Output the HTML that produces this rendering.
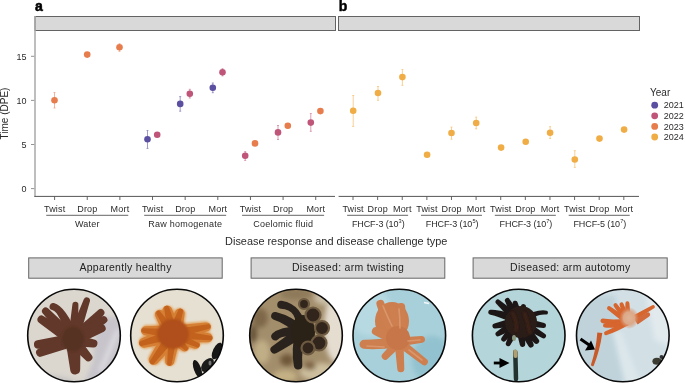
<!DOCTYPE html>
<html><head><meta charset="utf-8"><style>
html,body{margin:0;padding:0;background:#fff;width:685px;height:383px;overflow:hidden;}
svg{display:block;will-change:transform;}
text{font-family:"Liberation Sans",sans-serif;}
</style></head><body>
<svg width="685" height="383" viewBox="0 0 685 383">
<rect x="35" y="16.5" width="300.5" height="14" fill="#d9d9d9" stroke="#636363" stroke-width="1"/>
<rect x="338.5" y="16.5" width="301" height="14" fill="#d9d9d9" stroke="#636363" stroke-width="1"/>
<text x="34.9" y="11" font-family="Liberation Sans, sans-serif" font-weight="bold" font-size="14" fill="#000" stroke="#000" stroke-width="0.55">a</text>
<text x="338.8" y="11" font-family="Liberation Sans, sans-serif" font-weight="bold" font-size="14" fill="#000" stroke="#000" stroke-width="0.45">b</text>
<line x1="35" y1="16" x2="35" y2="196.5" stroke="#a8a8a8" stroke-width="1.5"/>
<line x1="31" y1="188.60" x2="34.3" y2="188.60" stroke="#888" stroke-width="0.9"/>
<text x="26.5" y="191.80" font-family="Liberation Sans, sans-serif" font-size="9" fill="#2b2b2b" text-anchor="end">0</text>
<line x1="31" y1="144.50" x2="34.3" y2="144.50" stroke="#888" stroke-width="0.9"/>
<text x="26.5" y="147.70" font-family="Liberation Sans, sans-serif" font-size="9" fill="#2b2b2b" text-anchor="end">5</text>
<line x1="31" y1="100.40" x2="34.3" y2="100.40" stroke="#888" stroke-width="0.9"/>
<text x="26.5" y="103.60" font-family="Liberation Sans, sans-serif" font-size="9" fill="#2b2b2b" text-anchor="end">10</text>
<line x1="31" y1="56.30" x2="34.3" y2="56.30" stroke="#888" stroke-width="0.9"/>
<text x="26.5" y="59.50" font-family="Liberation Sans, sans-serif" font-size="9" fill="#2b2b2b" text-anchor="end">15</text>
<text transform="translate(7.6,113.5) rotate(-90)" font-family="Liberation Sans, sans-serif" font-size="10" fill="#2b2b2b" text-anchor="middle">Time (DPE)</text>
<line x1="34.3" y1="196.4" x2="335" y2="196.4" stroke="#555" stroke-width="1"/>
<line x1="338.6" y1="196.4" x2="639" y2="196.4" stroke="#555" stroke-width="1"/>
<line x1="54.60" y1="196.4" x2="54.60" y2="200" stroke="#555" stroke-width="0.9"/>
<text x="54.70" y="211.8" font-family="Liberation Sans, sans-serif" font-size="9" letter-spacing="0.18" fill="#2b2b2b" text-anchor="middle">Twist</text>
<line x1="87.24" y1="196.4" x2="87.24" y2="200" stroke="#555" stroke-width="0.9"/>
<text x="87.34" y="211.8" font-family="Liberation Sans, sans-serif" font-size="9" letter-spacing="0.18" fill="#2b2b2b" text-anchor="middle">Drop</text>
<line x1="119.88" y1="196.4" x2="119.88" y2="200" stroke="#555" stroke-width="0.9"/>
<text x="119.98" y="211.8" font-family="Liberation Sans, sans-serif" font-size="9" letter-spacing="0.18" fill="#2b2b2b" text-anchor="middle">Mort</text>
<line x1="152.52" y1="196.4" x2="152.52" y2="200" stroke="#555" stroke-width="0.9"/>
<text x="152.62" y="211.8" font-family="Liberation Sans, sans-serif" font-size="9" letter-spacing="0.18" fill="#2b2b2b" text-anchor="middle">Twist</text>
<line x1="185.16" y1="196.4" x2="185.16" y2="200" stroke="#555" stroke-width="0.9"/>
<text x="185.26" y="211.8" font-family="Liberation Sans, sans-serif" font-size="9" letter-spacing="0.18" fill="#2b2b2b" text-anchor="middle">Drop</text>
<line x1="217.80" y1="196.4" x2="217.80" y2="200" stroke="#555" stroke-width="0.9"/>
<text x="217.90" y="211.8" font-family="Liberation Sans, sans-serif" font-size="9" letter-spacing="0.18" fill="#2b2b2b" text-anchor="middle">Mort</text>
<line x1="250.44" y1="196.4" x2="250.44" y2="200" stroke="#555" stroke-width="0.9"/>
<text x="250.54" y="211.8" font-family="Liberation Sans, sans-serif" font-size="9" letter-spacing="0.18" fill="#2b2b2b" text-anchor="middle">Twist</text>
<line x1="283.08" y1="196.4" x2="283.08" y2="200" stroke="#555" stroke-width="0.9"/>
<text x="283.18" y="211.8" font-family="Liberation Sans, sans-serif" font-size="9" letter-spacing="0.18" fill="#2b2b2b" text-anchor="middle">Drop</text>
<line x1="315.72" y1="196.4" x2="315.72" y2="200" stroke="#555" stroke-width="0.9"/>
<text x="315.82" y="211.8" font-family="Liberation Sans, sans-serif" font-size="9" letter-spacing="0.18" fill="#2b2b2b" text-anchor="middle">Mort</text>
<line x1="353.00" y1="196.4" x2="353.00" y2="200" stroke="#555" stroke-width="0.9"/>
<text x="353.10" y="211.8" font-family="Liberation Sans, sans-serif" font-size="9" letter-spacing="0.18" fill="#2b2b2b" text-anchor="middle">Twist</text>
<line x1="377.62" y1="196.4" x2="377.62" y2="200" stroke="#555" stroke-width="0.9"/>
<text x="377.72" y="211.8" font-family="Liberation Sans, sans-serif" font-size="9" letter-spacing="0.18" fill="#2b2b2b" text-anchor="middle">Drop</text>
<line x1="402.24" y1="196.4" x2="402.24" y2="200" stroke="#555" stroke-width="0.9"/>
<text x="402.34" y="211.8" font-family="Liberation Sans, sans-serif" font-size="9" letter-spacing="0.18" fill="#2b2b2b" text-anchor="middle">Mort</text>
<line x1="426.86" y1="196.4" x2="426.86" y2="200" stroke="#555" stroke-width="0.9"/>
<text x="426.96" y="211.8" font-family="Liberation Sans, sans-serif" font-size="9" letter-spacing="0.18" fill="#2b2b2b" text-anchor="middle">Twist</text>
<line x1="451.48" y1="196.4" x2="451.48" y2="200" stroke="#555" stroke-width="0.9"/>
<text x="451.58" y="211.8" font-family="Liberation Sans, sans-serif" font-size="9" letter-spacing="0.18" fill="#2b2b2b" text-anchor="middle">Drop</text>
<line x1="476.10" y1="196.4" x2="476.10" y2="200" stroke="#555" stroke-width="0.9"/>
<text x="476.20" y="211.8" font-family="Liberation Sans, sans-serif" font-size="9" letter-spacing="0.18" fill="#2b2b2b" text-anchor="middle">Mort</text>
<line x1="500.72" y1="196.4" x2="500.72" y2="200" stroke="#555" stroke-width="0.9"/>
<text x="500.82" y="211.8" font-family="Liberation Sans, sans-serif" font-size="9" letter-spacing="0.18" fill="#2b2b2b" text-anchor="middle">Twist</text>
<line x1="525.34" y1="196.4" x2="525.34" y2="200" stroke="#555" stroke-width="0.9"/>
<text x="525.44" y="211.8" font-family="Liberation Sans, sans-serif" font-size="9" letter-spacing="0.18" fill="#2b2b2b" text-anchor="middle">Drop</text>
<line x1="549.96" y1="196.4" x2="549.96" y2="200" stroke="#555" stroke-width="0.9"/>
<text x="550.06" y="211.8" font-family="Liberation Sans, sans-serif" font-size="9" letter-spacing="0.18" fill="#2b2b2b" text-anchor="middle">Mort</text>
<line x1="574.58" y1="196.4" x2="574.58" y2="200" stroke="#555" stroke-width="0.9"/>
<text x="574.68" y="211.8" font-family="Liberation Sans, sans-serif" font-size="9" letter-spacing="0.18" fill="#2b2b2b" text-anchor="middle">Twist</text>
<line x1="599.20" y1="196.4" x2="599.20" y2="200" stroke="#555" stroke-width="0.9"/>
<text x="599.30" y="211.8" font-family="Liberation Sans, sans-serif" font-size="9" letter-spacing="0.18" fill="#2b2b2b" text-anchor="middle">Drop</text>
<line x1="623.82" y1="196.4" x2="623.82" y2="200" stroke="#555" stroke-width="0.9"/>
<text x="623.92" y="211.8" font-family="Liberation Sans, sans-serif" font-size="9" letter-spacing="0.18" fill="#2b2b2b" text-anchor="middle">Mort</text>
<line x1="46.24" y1="215.3" x2="128.24" y2="215.3" stroke="#555" stroke-width="0.9"/>
<text x="87.34" y="227.2" font-family="Liberation Sans, sans-serif" font-size="9" letter-spacing="0.25" fill="#2b2b2b" text-anchor="middle">Water</text>
<line x1="144.16" y1="215.3" x2="226.16" y2="215.3" stroke="#555" stroke-width="0.9"/>
<text x="185.26" y="227.2" font-family="Liberation Sans, sans-serif" font-size="9" letter-spacing="0.25" fill="#2b2b2b" text-anchor="middle">Raw homogenate</text>
<line x1="242.08" y1="215.3" x2="324.08" y2="215.3" stroke="#555" stroke-width="0.9"/>
<text x="283.18" y="227.2" font-family="Liberation Sans, sans-serif" font-size="9" letter-spacing="0.25" fill="#2b2b2b" text-anchor="middle">Coelomic fluid</text>
<line x1="347.12" y1="215.3" x2="408.12" y2="215.3" stroke="#555" stroke-width="0.9"/>
<text x="378.22" y="227.2" font-family="Liberation Sans, sans-serif" font-size="9" letter-spacing="-0.1" fill="#2b2b2b" text-anchor="middle">FHCF-3 (10<tspan font-size="5.6" dy="-4.3" dx="0.2">3</tspan><tspan dy="4.3">)</tspan></text>
<line x1="420.98" y1="215.3" x2="481.98" y2="215.3" stroke="#555" stroke-width="0.9"/>
<text x="452.08" y="227.2" font-family="Liberation Sans, sans-serif" font-size="9" letter-spacing="-0.1" fill="#2b2b2b" text-anchor="middle">FHCF-3 (10<tspan font-size="5.6" dy="-4.3" dx="0.2">5</tspan><tspan dy="4.3">)</tspan></text>
<line x1="494.84" y1="215.3" x2="555.84" y2="215.3" stroke="#555" stroke-width="0.9"/>
<text x="525.94" y="227.2" font-family="Liberation Sans, sans-serif" font-size="9" letter-spacing="-0.1" fill="#2b2b2b" text-anchor="middle">FHCF-3 (10<tspan font-size="5.6" dy="-4.3" dx="0.2">7</tspan><tspan dy="4.3">)</tspan></text>
<line x1="568.70" y1="215.3" x2="629.70" y2="215.3" stroke="#555" stroke-width="0.9"/>
<text x="599.80" y="227.2" font-family="Liberation Sans, sans-serif" font-size="9" letter-spacing="-0.1" fill="#2b2b2b" text-anchor="middle">FHCF-5 (10<tspan font-size="5.6" dy="-4.3" dx="0.2">7</tspan><tspan dy="4.3">)</tspan></text>
<text x="336.2" y="244.7" font-family="Liberation Sans, sans-serif" font-size="10.9" fill="#2b2b2b" text-anchor="middle">Disease response and disease challenge type</text>
<text x="650" y="96" font-family="Liberation Sans, sans-serif" font-size="10" fill="#2b2b2b">Year</text>
<circle cx="654.7" cy="105.20" r="3.4" fill="#5a4fa0"/>
<text x="663.8" y="108.40" font-family="Liberation Sans, sans-serif" font-size="9" fill="#2b2b2b">2021</text>
<circle cx="654.7" cy="115.80" r="3.4" fill="#bf5679"/>
<text x="663.8" y="119.00" font-family="Liberation Sans, sans-serif" font-size="9" fill="#2b2b2b">2022</text>
<circle cx="654.7" cy="126.40" r="3.4" fill="#e77c4d"/>
<text x="663.8" y="129.60" font-family="Liberation Sans, sans-serif" font-size="9" fill="#2b2b2b">2023</text>
<circle cx="654.7" cy="137.00" r="3.4" fill="#f0ad45"/>
<text x="663.8" y="140.20" font-family="Liberation Sans, sans-serif" font-size="9" fill="#2b2b2b">2024</text>
<g stroke="#e77c4d" stroke-width="0.75" opacity="0.75"><line x1="54.5" y1="92.4" x2="54.5" y2="108.0"/><line x1="53.5" y1="92.4" x2="55.5" y2="92.4"/><line x1="53.5" y1="108.0" x2="55.5" y2="108.0"/></g>
<circle cx="54.5" cy="100.3" r="3.3" fill="#e77c4d"/>
<circle cx="87.2" cy="54.6" r="3.3" fill="#e77c4d"/>
<g stroke="#e77c4d" stroke-width="0.75" opacity="0.75"><line x1="119.5" y1="43.8" x2="119.5" y2="51.3"/><line x1="118.5" y1="43.8" x2="120.5" y2="43.8"/><line x1="118.5" y1="51.3" x2="120.5" y2="51.3"/></g>
<circle cx="119.5" cy="47.3" r="3.3" fill="#e77c4d"/>
<g stroke="#5a4fa0" stroke-width="0.75" opacity="0.75"><line x1="147.5" y1="130.4" x2="147.5" y2="148.4"/><line x1="146.5" y1="130.4" x2="148.5" y2="130.4"/><line x1="146.5" y1="148.4" x2="148.5" y2="148.4"/></g>
<circle cx="147.5" cy="139.3" r="3.3" fill="#5a4fa0"/>
<circle cx="157.2" cy="134.8" r="3.3" fill="#bf5679"/>
<g stroke="#5a4fa0" stroke-width="0.75" opacity="0.75"><line x1="180.2" y1="96.6" x2="180.2" y2="111.2"/><line x1="179.2" y1="96.6" x2="181.2" y2="96.6"/><line x1="179.2" y1="111.2" x2="181.2" y2="111.2"/></g>
<circle cx="180.2" cy="103.9" r="3.3" fill="#5a4fa0"/>
<g stroke="#bf5679" stroke-width="0.75" opacity="0.75"><line x1="189.8" y1="89.3" x2="189.8" y2="98.0"/><line x1="188.8" y1="89.3" x2="190.8" y2="89.3"/><line x1="188.8" y1="98.0" x2="190.8" y2="98.0"/></g>
<circle cx="189.8" cy="93.7" r="3.3" fill="#bf5679"/>
<g stroke="#5a4fa0" stroke-width="0.75" opacity="0.75"><line x1="212.8" y1="83.0" x2="212.8" y2="92.7"/><line x1="211.8" y1="83.0" x2="213.8" y2="83.0"/><line x1="211.8" y1="92.7" x2="213.8" y2="92.7"/></g>
<circle cx="212.8" cy="87.7" r="3.3" fill="#5a4fa0"/>
<g stroke="#bf5679" stroke-width="0.75" opacity="0.75"><line x1="222.5" y1="68.7" x2="222.5" y2="75.9"/><line x1="221.5" y1="68.7" x2="223.5" y2="68.7"/><line x1="221.5" y1="75.9" x2="223.5" y2="75.9"/></g>
<circle cx="222.5" cy="72.3" r="3.3" fill="#bf5679"/>
<g stroke="#bf5679" stroke-width="0.75" opacity="0.75"><line x1="245.2" y1="151.6" x2="245.2" y2="160.4"/><line x1="244.2" y1="151.6" x2="246.2" y2="151.6"/><line x1="244.2" y1="160.4" x2="246.2" y2="160.4"/></g>
<circle cx="245.2" cy="155.8" r="3.3" fill="#bf5679"/>
<circle cx="255.0" cy="143.4" r="3.3" fill="#e77c4d"/>
<g stroke="#bf5679" stroke-width="0.75" opacity="0.75"><line x1="278.0" y1="125.5" x2="278.0" y2="139.5"/><line x1="277.0" y1="125.5" x2="279.0" y2="125.5"/><line x1="277.0" y1="139.5" x2="279.0" y2="139.5"/></g>
<circle cx="278.0" cy="132.4" r="3.3" fill="#bf5679"/>
<circle cx="287.8" cy="125.7" r="3.3" fill="#e77c4d"/>
<g stroke="#bf5679" stroke-width="0.75" opacity="0.75"><line x1="310.8" y1="113.4" x2="310.8" y2="131.3"/><line x1="309.8" y1="113.4" x2="311.8" y2="113.4"/><line x1="309.8" y1="131.3" x2="311.8" y2="131.3"/></g>
<circle cx="310.8" cy="122.6" r="3.3" fill="#bf5679"/>
<circle cx="320.4" cy="111.1" r="3.3" fill="#e77c4d"/>
<g stroke="#f0ad45" stroke-width="0.75" opacity="0.75"><line x1="353.2" y1="95.5" x2="353.2" y2="126.4"/><line x1="352.2" y1="95.5" x2="354.2" y2="95.5"/><line x1="352.2" y1="126.4" x2="354.2" y2="126.4"/></g>
<circle cx="353.2" cy="110.7" r="3.3" fill="#f0ad45"/>
<g stroke="#f0ad45" stroke-width="0.75" opacity="0.75"><line x1="378.0" y1="86.5" x2="378.0" y2="100.3"/><line x1="377.0" y1="86.5" x2="379.0" y2="86.5"/><line x1="377.0" y1="100.3" x2="379.0" y2="100.3"/></g>
<circle cx="378.0" cy="93.0" r="3.3" fill="#f0ad45"/>
<g stroke="#f0ad45" stroke-width="0.75" opacity="0.75"><line x1="402.4" y1="69.4" x2="402.4" y2="85.3"/><line x1="401.4" y1="69.4" x2="403.4" y2="69.4"/><line x1="401.4" y1="85.3" x2="403.4" y2="85.3"/></g>
<circle cx="402.4" cy="77.1" r="3.3" fill="#f0ad45"/>
<circle cx="427.1" cy="154.7" r="3.3" fill="#f0ad45"/>
<g stroke="#f0ad45" stroke-width="0.75" opacity="0.75"><line x1="451.5" y1="127.1" x2="451.5" y2="139.2"/><line x1="450.5" y1="127.1" x2="452.5" y2="127.1"/><line x1="450.5" y1="139.2" x2="452.5" y2="139.2"/></g>
<circle cx="451.5" cy="133.0" r="3.3" fill="#f0ad45"/>
<g stroke="#f0ad45" stroke-width="0.75" opacity="0.75"><line x1="476.2" y1="117.1" x2="476.2" y2="128.8"/><line x1="475.2" y1="117.1" x2="477.2" y2="117.1"/><line x1="475.2" y1="128.8" x2="477.2" y2="128.8"/></g>
<circle cx="476.2" cy="123.0" r="3.3" fill="#f0ad45"/>
<circle cx="501.1" cy="147.6" r="3.3" fill="#f0ad45"/>
<circle cx="525.7" cy="141.8" r="3.3" fill="#f0ad45"/>
<g stroke="#f0ad45" stroke-width="0.75" opacity="0.75"><line x1="550.1" y1="126.7" x2="550.1" y2="138.6"/><line x1="549.1" y1="126.7" x2="551.1" y2="126.7"/><line x1="549.1" y1="138.6" x2="551.1" y2="138.6"/></g>
<circle cx="550.1" cy="132.8" r="3.3" fill="#f0ad45"/>
<g stroke="#f0ad45" stroke-width="0.75" opacity="0.75"><line x1="574.8" y1="150.7" x2="574.8" y2="167.4"/><line x1="573.8" y1="150.7" x2="575.8" y2="150.7"/><line x1="573.8" y1="167.4" x2="575.8" y2="167.4"/></g>
<circle cx="574.8" cy="159.5" r="3.3" fill="#f0ad45"/>
<circle cx="599.5" cy="138.6" r="3.3" fill="#f0ad45"/>
<circle cx="624.1" cy="129.6" r="3.3" fill="#f0ad45"/>
<rect x="28.7" y="257.9" width="193.50" height="20.3" fill="#d9d9d9" stroke="#666" stroke-width="1"/>
<text x="125.60" y="271.1" font-family="Liberation Sans, sans-serif" font-size="10.5" letter-spacing="0.3" fill="#222" text-anchor="middle">Apparently healthy</text>
<rect x="251.1" y="257.9" width="193.70" height="20.3" fill="#d9d9d9" stroke="#666" stroke-width="1"/>
<text x="348.10" y="271.1" font-family="Liberation Sans, sans-serif" font-size="10.5" letter-spacing="0.3" fill="#222" text-anchor="middle">Diseased: arm twisting</text>
<rect x="473.1" y="257.9" width="194.10" height="20.3" fill="#d9d9d9" stroke="#666" stroke-width="1"/>
<text x="570.30" y="271.1" font-family="Liberation Sans, sans-serif" font-size="10.5" letter-spacing="0.3" fill="#222" text-anchor="middle">Diseased: arm autotomy</text>
<defs>
<clipPath id="cp0"><circle cx="74.0" cy="335.5" r="46.4"/></clipPath>
<clipPath id="cp1"><circle cx="177.0" cy="335.5" r="46.4"/></clipPath>
<clipPath id="cp2"><circle cx="296.0" cy="335.5" r="46.4"/></clipPath>
<clipPath id="cp3"><circle cx="399.3" cy="335.5" r="46.4"/></clipPath>
<clipPath id="cp4"><circle cx="518.7" cy="335.5" r="46.4"/></clipPath>
<clipPath id="cp5"><circle cx="622.8" cy="335.5" r="46.4"/></clipPath>
<filter id="bl" x="-10%" y="-10%" width="120%" height="120%"><feGaussianBlur stdDeviation="0.6"/></filter>
<filter id="bl2" x="-20%" y="-20%" width="140%" height="140%"><feGaussianBlur stdDeviation="2.5"/></filter>
<filter id="bl3" x="-20%" y="-20%" width="140%" height="140%"><feGaussianBlur stdDeviation="1.2"/></filter>
</defs>
<g clip-path="url(#cp0)">
<rect x="26.0" y="287" width="96" height="97" fill="#dbd7cf"/>
<g filter="url(#bl2)">
<path d="M97,318 L125,316 L125,383 L84,383 L93,362 Z" fill="#c7c4cb"/>
<path d="M24,372 L62,377 L84,383 L24,383 Z" fill="#c2bfc0"/>
<path d="M100,372 L118,330" stroke="#e6e6ea" stroke-width="3"/>
</g>
<g filter="url(#bl)">
<path d="M76.5,334.5 L43.7,316.2 A4.00,4.00 0 0 0 39.3,322.9 L69.5,345.5 Z" fill="#62382b" />
<path d="M77.4,335.9 L48.0,308.2 A3.75,3.75 0 0 0 42.6,313.3 L68.6,344.1 Z" fill="#62382b" />
<path d="M78.7,338.2 Q65.8,306.0 53.9,303.1 A3.50,3.50 0 0 0 52.2,309.9 Q60.2,312.0 67.3,341.8 Z" fill="#62382b" />
<path d="M78.0,340.3 L78.4,304.9 A3.00,3.00 0 0 0 72.4,304.5 L68.0,339.7 Z" fill="#62382b" />
<path d="M78.2,341.8 L89.9,301.3 A3.25,3.25 0 0 0 83.8,299.2 L67.8,338.2 Z" fill="#62382b" />
<path d="M77.2,344.3 L103.7,315.0 A3.75,3.75 0 0 0 98.5,309.7 L68.8,335.7 Z" fill="#62382b" />
<path d="M76.3,345.0 L105.7,323.0 A3.75,3.75 0 0 0 101.6,316.7 L69.7,335.0 Z" fill="#62382b" />
<path d="M75.2,345.6 L103.8,331.7 A3.75,3.75 0 0 0 101.0,324.8 L70.8,334.4 Z" fill="#62382b" />
<path d="M72.2,333.6 L37.3,340.3 A4.25,4.25 0 0 0 38.3,348.7 L73.8,346.4 Z" fill="#62382b" />
<path d="M70.7,333.9 L38.5,348.7 A4.25,4.25 0 0 0 41.6,356.6 L75.3,346.1 Z" fill="#62382b" />
<path d="M65.5,340.6 L70.3,370.4 A5.00,5.00 0 0 0 80.2,369.6 L80.5,339.4 Z" fill="#62382b" />
<path d="M68.5,344.0 L85.4,360.0 A4.00,4.00 0 0 0 91.4,354.7 L77.5,336.0 Z" fill="#62382b" />
<path d="M72.0,345.9 L92.8,347.4 A4.00,4.00 0 0 0 94.1,339.5 L74.0,334.1 Z" fill="#62382b" />
<ellipse cx="73" cy="339" rx="11" ry="12" fill="#543022" filter="url(#bl3)"/>
</g>
</g>
<g clip-path="url(#cp1)">
<rect x="129.0" y="287" width="96" height="97" fill="#e6e0d2"/>
<g filter="url(#bl)">
<g filter="url(#bl3)">
<path d="M183.7,331.4 L173.9,310.2 A6.50,6.50 0 0 0 161.3,313.2 L162.3,336.6 Z" fill="#e2a463" />
<path d="M181.6,328.0 L165.1,312.0 A6.00,6.00 0 0 0 155.2,318.9 L164.4,340.0 Z" fill="#e2a463" />
<path d="M183.0,337.3 L185.6,316.6 A6.50,6.50 0 0 0 173.2,312.5 L163.0,330.7 Z" fill="#e2a463" />
<path d="M174.3,323.6 L147.6,324.9 A6.00,6.00 0 0 0 146.1,336.8 L171.7,344.4 Z" fill="#e2a463" />
<path d="M170.0,323.9 L143.2,336.1 A6.50,6.50 0 0 0 147.0,348.6 L176.0,344.1 Z" fill="#e2a463" />
<path d="M164.6,327.7 L149.3,354.9 A6.50,6.50 0 0 0 159.7,362.7 L181.4,340.3 Z" fill="#e2a463" />
<path d="M163.6,332.9 L163.9,359.4 A6.00,6.00 0 0 0 175.8,360.9 L182.4,335.1 Z" fill="#e2a463" />
<path d="M166.3,340.0 L179.2,350.0 A6.00,6.00 0 0 0 188.2,342.0 L179.7,328.0 Z" fill="#e2a463" />
<path d="M169.3,342.2 L191.9,349.2 A6.00,6.00 0 0 0 196.9,338.3 L176.7,325.8 Z" fill="#e2a463" />
<path d="M171.9,343.9 L206.5,343.6 A6.00,6.00 0 0 0 207.8,331.7 L174.1,324.1 Z" fill="#e2a463" />
<path d="M175.1,343.8 L206.5,333.1 A6.00,6.00 0 0 0 204.0,321.3 L170.9,324.2 Z" fill="#e2a463" />
</g>
<path d="M182.2,331.8 L172.1,309.2 A5.00,5.00 0 0 0 162.4,311.6 L163.8,336.2 Z" fill="#d57f34" />
<path d="M180.4,328.9 L163.1,311.8 A4.50,4.50 0 0 0 155.7,316.9 L165.6,339.1 Z" fill="#d57f34" />
<path d="M181.6,336.8 L184.5,314.8 A5.00,5.00 0 0 0 175.0,311.7 L164.4,331.2 Z" fill="#d57f34" />
<path d="M174.1,325.1 L146.1,326.2 A4.50,4.50 0 0 0 145.0,335.2 L171.9,342.9 Z" fill="#d57f34" />
<path d="M170.4,325.4 L142.4,337.9 A5.00,5.00 0 0 0 145.2,347.5 L175.6,342.6 Z" fill="#d57f34" />
<path d="M165.8,328.6 L149.7,356.9 A5.00,5.00 0 0 0 157.7,362.9 L180.2,339.4 Z" fill="#d57f34" />
<path d="M165.1,333.0 L165.2,360.9 A4.50,4.50 0 0 0 174.2,362.0 L180.9,335.0 Z" fill="#d57f34" />
<path d="M167.4,339.0 L181.2,350.0 A4.50,4.50 0 0 0 188.0,344.0 L178.6,329.0 Z" fill="#d57f34" />
<path d="M169.9,340.8 L193.7,348.4 A4.50,4.50 0 0 0 197.5,340.2 L176.1,327.2 Z" fill="#d57f34" />
<path d="M172.1,342.5 L208.0,342.2 A4.50,4.50 0 0 0 208.9,333.3 L173.9,325.5 Z" fill="#d57f34" />
<path d="M174.8,342.3 L207.5,331.3 A4.50,4.50 0 0 0 205.6,322.5 L171.2,325.7 Z" fill="#d57f34" />
<path d="M178.1,332.8 L169.2,307.6 A2.50,2.50 0 0 0 164.3,308.8 L167.9,335.2 Z" fill="#c2621f" />
<path d="M177.1,331.2 L160.1,311.4 A2.25,2.25 0 0 0 156.4,313.9 L168.9,336.8 Z" fill="#c2621f" />
<path d="M177.7,335.5 L182.9,311.9 A2.50,2.50 0 0 0 178.1,310.4 L168.3,332.5 Z" fill="#c2621f" />
<path d="M173.6,329.1 L143.8,328.2 A2.25,2.25 0 0 0 143.2,332.7 L172.4,338.9 Z" fill="#c2621f" />
<path d="M171.6,329.3 L140.9,341.0 A2.50,2.50 0 0 0 142.4,345.8 L174.4,338.7 Z" fill="#c2621f" />
<path d="M169.0,331.0 L150.3,360.2 A2.50,2.50 0 0 0 154.3,363.2 L177.0,337.0 Z" fill="#c2621f" />
<path d="M168.6,333.5 L167.2,363.2 A2.25,2.25 0 0 0 171.7,363.8 L177.4,334.5 Z" fill="#c2621f" />
<path d="M169.9,336.7 L184.3,350.0 A2.25,2.25 0 0 0 187.6,347.0 L176.1,331.3 Z" fill="#c2621f" />
<path d="M171.3,337.8 L196.5,347.2 A2.25,2.25 0 0 0 198.4,343.1 L174.7,330.2 Z" fill="#c2621f" />
<path d="M172.5,338.6 L210.2,340.2 A2.25,2.25 0 0 0 210.7,335.7 L173.5,329.4 Z" fill="#c2621f" />
<path d="M174.0,338.6 L209.0,328.7 A2.25,2.25 0 0 0 208.1,324.3 L172.0,329.4 Z" fill="#c2621f" />
<ellipse cx="173" cy="334" rx="16" ry="15" fill="#b0501a" filter="url(#bl3)"/>
</g>
<g filter="url(#bl)">
<ellipse cx="197.5" cy="369" rx="3.6" ry="9.5" transform="rotate(-20 197.5 369)" fill="#161616"/>
<ellipse cx="207.5" cy="365" rx="5" ry="8" transform="rotate(40 207.5 365)" fill="#1c1c1c"/>
<ellipse cx="217" cy="351" rx="4" ry="9" transform="rotate(25 217 351)" fill="#151515"/>
<ellipse cx="210" cy="363" rx="1.5" ry="2.5" fill="#9a9a9a" opacity="0.7"/>
</g>
</g>
<g clip-path="url(#cp2)">
<rect x="248.0" y="287" width="96" height="97" fill="#a38e6c"/>
<g filter="url(#bl2)">
<ellipse cx="336" cy="328" rx="12" ry="34" fill="#e4ddd0"/>
<ellipse cx="326" cy="298" rx="12" ry="7" fill="#cbbfa8"/>
<ellipse cx="320" cy="372" rx="20" ry="9" fill="#cdbf9f"/>
<ellipse cx="262" cy="352" rx="8" ry="12" fill="#c0ae86"/>
<ellipse cx="285" cy="376" rx="12" ry="6" fill="#c4b184"/>
<ellipse cx="260" cy="318" rx="8" ry="10" fill="#7e684a"/>
<ellipse cx="296" cy="294" rx="16" ry="6" fill="#8e7a5a"/>
<ellipse cx="287" cy="360" rx="7" ry="6" fill="#6e5638"/>
<ellipse cx="253" cy="334" rx="4" ry="9" fill="#665238"/>
<ellipse cx="310" cy="366" rx="6" ry="4" fill="#7a6040"/>
</g>
<g filter="url(#bl)">
<path d="M306.5,332.0 Q303.6,304.6 281.7,300.8 A4.00,4.00 0 0 0 280.8,308.8 Q298.4,309.4 295.5,332.0 Z" fill="#2c231b" />
<path d="M305.1,328.3 Q292.4,316.1 275.9,312.0 A4.00,4.00 0 0 0 273.8,319.7 Q287.6,323.9 296.9,335.7 Z" fill="#2c231b" />
<path d="M301.6,326.5 Q280.6,325.9 272.4,333.6 A4.00,4.00 0 0 0 277.9,339.4 Q283.4,334.1 300.4,337.5 Z" fill="#2c231b" />
<path d="M297.9,327.5 Q282.4,339.0 272.3,346.2 A4.00,4.00 0 0 0 276.6,353.0 Q287.6,347.0 304.1,336.5 Z" fill="#2c231b" />
<path d="M295.2,330.4 Q291.0,349.7 293.9,366.1 A4.25,4.25 0 0 0 302.3,364.9 Q301.0,350.3 306.8,333.6 Z" fill="#2c231b" />
<ellipse cx="303" cy="332" rx="12" ry="17" fill="#2a2119"/>
<circle cx="313" cy="315" r="7.5" fill="#30261c" stroke="#6e5a40" stroke-width="2.2"/>
<circle cx="322" cy="328" r="7" fill="#30261c" stroke="#6e5a40" stroke-width="2.2"/>
<circle cx="319" cy="343" r="7.5" fill="#30261c" stroke="#6e5a40" stroke-width="2.2"/>
<circle cx="308" cy="348" r="6.5" fill="#30261c" stroke="#6e5a40" stroke-width="2.2"/>
<circle cx="304" cy="304" r="5" fill="#30261c" stroke="#6e5a40" stroke-width="2.2"/>
</g>
</g>
<g clip-path="url(#cp3)">
<rect x="351.3" y="287" width="96" height="97" fill="#a8d0da"/>
<g filter="url(#bl2)">
<ellipse cx="370" cy="312" rx="22" ry="24" fill="#b7d9e2"/>
<ellipse cx="432" cy="360" rx="20" ry="24" fill="#92c2cf"/>
</g>
<g filter="url(#bl)">
<ellipse cx="392" cy="321" rx="17" ry="19" fill="#cc7e50"/>
<path d="M398.3,336.5 Q374.9,340.0 364.3,339.8 A4.50,4.50 0 0 0 363.7,348.8 Q375.1,350.0 399.7,347.5 Z" fill="#cd7f50" />
<path d="M399.5,346.5 L422.3,342.8 A3.50,3.50 0 0 0 421.5,335.9 L398.5,337.5 Z" fill="#cd7f50" />
<path d="M396.2,345.5 L422.4,364.8 A3.50,3.50 0 0 0 426.7,359.3 L401.8,338.5 Z" fill="#cd7f50" />
<path d="M394.5,342.3 L397.3,369.1 A3.50,3.50 0 0 0 404.3,368.6 L403.5,341.7 Z" fill="#cd7f50" />
<path d="M395.8,338.9 L382.7,353.8 A3.50,3.50 0 0 0 387.7,358.7 L402.2,345.1 Z" fill="#cd7f50" />
<path d="M403.2,339.3 Q390.0,320.1 384.3,302.8 A4.00,4.00 0 0 0 376.6,305.1 Q382.0,323.9 394.8,344.7 Z" fill="#cd7f50" />
<path d="M403.9,342.7 Q406.5,322.2 405.2,306.9 A4.00,4.00 0 0 0 397.2,307.3 Q397.5,321.8 394.1,341.3 Z" fill="#cd7f50" />
<path d="M403.4,341.1 L396.0,308.4 A3.50,3.50 0 0 0 389.2,309.8 L394.6,342.9 Z" fill="#cd7f50" />
<path d="M401.2,337.5 Q384.8,329.9 377.3,327.5 A4.00,4.00 0 0 0 374.4,335.0 Q381.2,338.1 396.8,346.5 Z" fill="#cd7f50" />
<ellipse cx="398" cy="338" rx="12" ry="12" fill="#c67648"/>
<path d="M383,306 Q388,318 392,326 M399,309 Q400,318 400,328 M367,346 L384,347 M408,341 L420,340 M409,350 L422,360" stroke="#dd9c72" stroke-width="1.6" fill="none" stroke-linecap="round" opacity="0.8"/>
<path d="M424,302.5 L429,303.5" stroke="#f4fafc" stroke-width="1.5"/>
</g>
</g>
<g clip-path="url(#cp4)">
<rect x="470.70000000000005" y="287" width="96" height="97" fill="#b4d5d9"/>
<g filter="url(#bl)">
<path d="M522.4,317.3 L499.4,299.9 A2.50,2.50 0 0 0 496.1,303.6 L515.6,324.7 Z" fill="#1f1917" />
<path d="M523.4,318.5 L509.6,299.2 A2.50,2.50 0 0 0 505.2,301.7 L514.6,323.5 Z" fill="#1f1917" />
<path d="M523.9,320.0 L517.7,302.7 A2.50,2.50 0 0 0 512.8,303.7 L514.1,322.0 Z" fill="#1f1917" />
<path d="M523.8,322.5 L525.8,307.3 A2.50,2.50 0 0 0 521.0,305.8 L514.2,319.5 Z" fill="#1f1917" />
<path d="M520.7,316.9 Q500.8,309.6 491.0,309.7 A2.50,2.50 0 0 0 490.5,314.7 Q499.2,316.4 517.3,325.1 Z" fill="#1f1917" />
<path d="M518.0,316.1 L494.4,323.6 A2.50,2.50 0 0 0 495.4,328.5 L520.0,325.9 Z" fill="#1f1917" />
<path d="M516.4,316.7 L496.7,331.7 A2.50,2.50 0 0 0 499.3,336.0 L521.6,325.3 Z" fill="#1f1917" />
<path d="M515.2,317.8 L501.6,337.7 A2.50,2.50 0 0 0 505.4,340.9 L522.8,324.2 Z" fill="#1f1917" />
<path d="M514.5,318.9 L505.9,342.9 A2.50,2.50 0 0 0 510.4,345.0 L523.5,323.1 Z" fill="#1f1917" />
<path d="M514.1,321.8 L519.9,345.0 A2.75,2.75 0 0 0 525.3,344.1 L523.9,320.2 Z" fill="#1f1917" />
<path d="M514.5,323.2 L528.4,346.0 A2.75,2.75 0 0 0 533.4,343.6 L523.5,318.8 Z" fill="#1f1917" />
<path d="M515.2,324.3 L534.3,342.9 A2.75,2.75 0 0 0 538.5,339.3 L522.8,317.7 Z" fill="#1f1917" />
<path d="M516.7,324.8 L542.2,338.0 A2.50,2.50 0 0 0 544.8,333.7 L521.3,317.2 Z" fill="#1f1917" />
<path d="M518.2,325.4 L543.3,328.0 A2.50,2.50 0 0 0 544.2,323.1 L519.8,316.6 Z" fill="#1f1917" />
<path d="M520.4,323.7 Q538.3,313.3 545.8,314.6 A2.00,2.00 0 0 0 546.6,310.7 Q537.7,308.7 517.6,318.3 Z" fill="#1f1917" />
<ellipse cx="521" cy="322" rx="16" ry="16" fill="#2a1b15"/>
<path d="M512,312 Q518,322 516,332 M524,312 Q528,322 530,334" stroke="#3c2419" stroke-width="3" fill="none" filter="url(#bl3)"/>
<ellipse cx="514" cy="338" rx="2" ry="3" fill="#8a9880"/>
<path d="M515.3,352 L516,379" stroke="#22302e" stroke-width="4.5" stroke-linecap="round"/>
<path d="M515.3,351.5 L515.5,356" stroke="#b0a070" stroke-width="4" stroke-linecap="round"/>
<path d="M493.8,363 L502,363" stroke="#000" stroke-width="2.8"/>
<path d="M499.5,358 L509.5,363 L499.5,368 Z" fill="#000"/>
</g>
</g>
<g clip-path="url(#cp5)">
<rect x="574.8" y="287" width="96" height="97" fill="#d2e0e6"/>
<g filter="url(#bl2)">
<path d="M570,295 L615,295 L628,383 L570,383 Z" fill="#c0d3db"/>
<path d="M612,330 L625,383 L640,383 L620,330 Z" fill="#dce7eb"/>
<path d="M645,290 L680,290 L680,350 L655,340 Z" fill="#e2eaee"/>
</g>
<g filter="url(#bl)">
<path d="M629.8,319.6 L609.9,306.3 A2.00,2.00 0 0 0 607.6,309.5 L626.2,324.4 Z" fill="#d6652f" />
<path d="M630.4,320.2 L617.1,304.0 A2.00,2.00 0 0 0 613.9,306.4 L625.6,323.8 Z" fill="#d6652f" />
<path d="M630.8,321.0 L623.4,303.6 A2.00,2.00 0 0 0 619.6,305.0 L625.2,323.0 Z" fill="#d6652f" />
<path d="M631.0,321.9 L629.4,303.2 A2.00,2.00 0 0 0 625.4,303.4 L625.0,322.1 Z" fill="#d6652f" />
<path d="M627.8,318.5 Q612.2,320.2 602.8,318.6 A2.25,2.25 0 0 0 601.8,322.9 Q611.8,325.8 628.2,325.5 Z" fill="#d6652f" />
<path d="M627.2,319.1 Q613.7,323.5 605.1,323.6 A2.00,2.00 0 0 0 604.9,327.6 Q614.3,328.5 628.8,324.9 Z" fill="#d6652f" />
<path d="M626.4,319.4 Q613.9,327.8 605.4,331.3 A2.00,2.00 0 0 0 606.8,335.1 Q616.1,332.2 629.6,324.6 Z" fill="#d6652f" />
<path d="M635.0,320.2 L654.1,308.3 A1.75,1.75 0 0 0 652.3,305.3 L632.6,315.8 Z" fill="#d6652f" />
<path d="M637.6,324.5 L649.2,316.4 A2.25,2.25 0 0 0 646.8,312.6 L634.4,319.5 Z" fill="#d36a3a" />
<radialGradient id="g6"><stop offset="0" stop-color="#dfb496"/><stop offset="0.55" stop-color="#dca888"/><stop offset="1" stop-color="#d98a60" stop-opacity="0"/></radialGradient>
<ellipse cx="629" cy="318" rx="10" ry="11" fill="url(#g6)"/>
<path d="M597.3,332.4 Q596.1,349.5 591.0,364.4 A1.50,1.50 0 0 0 593.8,365.4 Q599.9,350.5 602.3,333.0 Z" fill="#c85a2a" />
<path d="M580.5,338.9 L589.5,345.2" stroke="#000" stroke-width="3"/>
<path d="M585,350.5 L595,349.5 L591,340.5 Z" fill="#000"/>
<ellipse cx="656.9" cy="361.2" rx="4.5" ry="3.5" fill="#3a3a30"/>
<circle cx="661.5" cy="357" r="2" fill="#333"/>
</g>
</g>
<circle cx="74.0" cy="335.5" r="46.3" fill="none" stroke="#0a0a0a" stroke-width="1.6"/>
<circle cx="177.0" cy="335.5" r="46.3" fill="none" stroke="#0a0a0a" stroke-width="1.6"/>
<circle cx="296.0" cy="335.5" r="46.3" fill="none" stroke="#0a0a0a" stroke-width="1.6"/>
<circle cx="399.3" cy="335.5" r="46.3" fill="none" stroke="#0a0a0a" stroke-width="1.6"/>
<circle cx="518.7" cy="335.5" r="46.3" fill="none" stroke="#0a0a0a" stroke-width="1.6"/>
<circle cx="622.8" cy="335.5" r="46.3" fill="none" stroke="#0a0a0a" stroke-width="1.6"/>
</svg>
</body></html>
